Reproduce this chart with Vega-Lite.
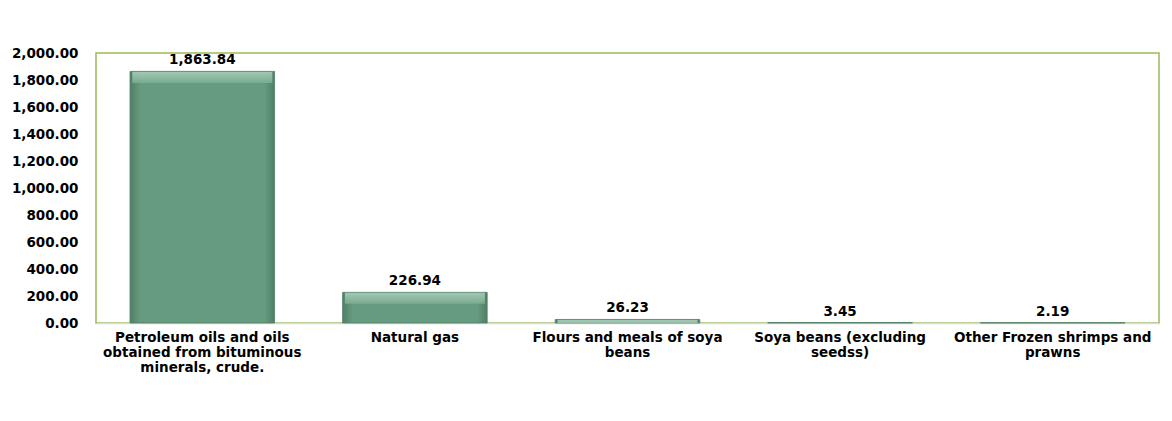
{
  "$schema": "https://vega.github.io/schema/vega-lite/v6.json",
  "autosize": {"type": "none"},
  "width": 1063,
  "height": 270,
  "padding": {"left": 96, "top": 53, "right": 13, "bottom": 98},
  "background": "white",
  "config": {
    "font": "DejaVu Sans",
    "view": {"stroke": "#9bbb59", "strokeWidth": 1.5}
  },
  "data": {
    "values": [
      {"product": "Petroleum oils and oils obtained from bituminous minerals, crude.", "value": 1863.84},
      {"product": "Natural gas", "value": 226.94},
      {"product": "Flours and meals of soya beans", "value": 26.23},
      {"product": "Soya beans (excluding seedss)", "value": 3.45},
      {"product": "Other Frozen shrimps and prawns", "value": 2.19}
    ]
  },
  "encoding": {
    "x": {
      "field": "product",
      "type": "nominal",
      "sort": null,
      "scale": {"paddingInner": 0.32, "paddingOuter": 0.16},
      "axis": {
        "title": null,
        "labelAngle": 0,
        "labelFont": "DejaVu Sans",
        "labelFontWeight": "bold",
        "labelFontSize": 13.5,
        "labelColor": "#000000",
        "labelLineHeight": 15,
        "labelPadding": 7,
        "labelLimit": 0,
        "ticks": false,
        "domainColor": "#d9d9d9",
        "domainWidth": 1.5,
        "labelExpr": "datum.label == 'Petroleum oils and oils obtained from bituminous minerals, crude.' ? ['Petroleum oils and oils', 'obtained from bituminous', 'minerals, crude.'] : datum.label == 'Flours and meals of soya beans' ? ['Flours and meals of soya', 'beans'] : datum.label == 'Soya beans (excluding seedss)' ? ['Soya beans (excluding', 'seedss)'] : datum.label == 'Other Frozen shrimps and prawns' ? ['Other Frozen shrimps and', 'prawns'] : datum.label"
      }
    },
    "y": {
      "field": "value",
      "type": "quantitative",
      "scale": {"domain": [0, 2000], "nice": false},
      "axis": {
        "title": null,
        "values": [0, 200, 400, 600, 800, 1000, 1200, 1400, 1600, 1800, 2000],
        "format": ",.2f",
        "labelFont": "DejaVu Sans",
        "labelFontWeight": "bold",
        "labelFontSize": 13.5,
        "labelColor": "#000000",
        "labelPadding": 18,
        "ticks": false,
        "domain": false,
        "grid": false
      }
    }
  },
  "layer": [
    {
      "mark": {
        "type": "bar",
        "stroke": "#4e7f66",
        "strokeWidth": 0.8,
        "color": {
          "gradient": "linear",
          "x1": 0, "y1": 0, "x2": 1, "y2": 0,
          "stops": [
            {"offset": 0, "color": "#4f7f66"},
            {"offset": 0.07, "color": "#679b80"},
            {"offset": 0.93, "color": "#679b80"},
            {"offset": 1, "color": "#4f7f66"}
          ]
        }
      }
    },
    {
      "mark": {
        "type": "tick",
        "size": 140,
        "thickness": 11,
        "yOffset": 6,
        "clip": true,
        "opacity": 0.9,
        "color": {
          "gradient": "linear",
          "x1": 0, "y1": 0, "x2": 0, "y2": 1,
          "stops": [
            {"offset": 0, "color": "#a9cdb9"},
            {"offset": 1, "color": "#7aad92"}
          ]
        }
      }
    },
    {
      "mark": {
        "type": "text",
        "dy": -11,
        "font": "DejaVu Sans",
        "fontWeight": "bold",
        "fontSize": 13.5,
        "color": "#000000"
      },
      "encoding": {
        "text": {"field": "value", "type": "quantitative", "format": ",.2f"}
      }
    }
  ]
}
